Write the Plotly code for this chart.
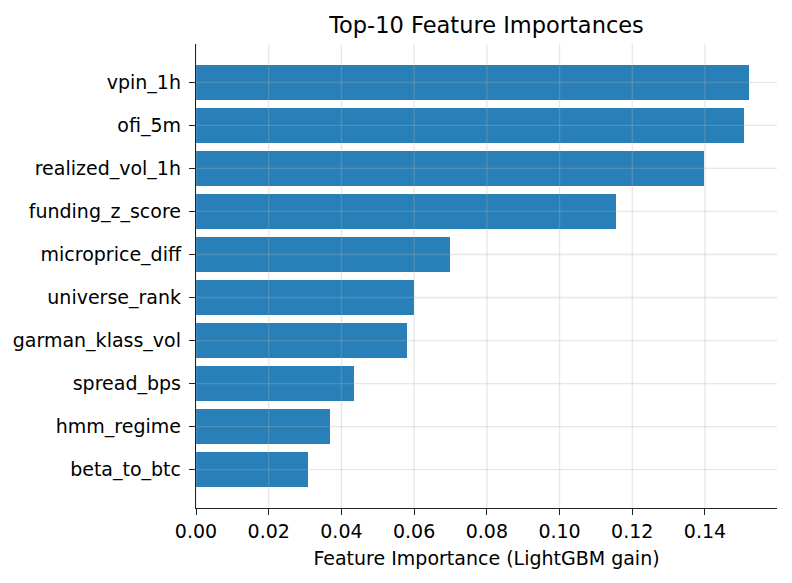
import plotly.graph_objects as go

features = ["beta_to_btc", "hmm_regime", "spread_bps", "garman_klass_vol", "universe_rank",
            "microprice_diff", "funding_z_score", "realized_vol_1h", "ofi_5m", "vpin_1h"]
importance = [0.0307, 0.0368, 0.0434, 0.0580, 0.0599, 0.0698, 0.1154, 0.1396, 0.1508, 0.1522]
xticks = [0.00, 0.02, 0.04, 0.06, 0.08, 0.10, 0.12, 0.14]
xtick_labels = ["0.00", "0.02", "0.04", "0.06", "0.08", "0.10", "0.12", "0.14"]

ypos = list(range(len(features)))
FONT = "DejaVu Sans"
grid_color = "rgba(176,176,176,0.3)"

fig = go.Figure(go.Bar(
    x=importance, y=ypos, orientation="h", width=0.8,
    marker=dict(color="#2980b9", line=dict(width=0)),
))

shapes = []
for xv in xticks:
    shapes.append(dict(type="line", xref="x", yref="paper", x0=xv, x1=xv, y0=0, y1=1,
                       line=dict(color=grid_color, width=1.3), layer="above"))
for yv in ypos:
    shapes.append(dict(type="line", xref="paper", yref="y", x0=0, x1=1, y0=yv, y1=yv,
                       line=dict(color=grid_color, width=1.3), layer="above"))

xmax = max(importance) * 1.05
fig.update_layout(
    width=792, height=583,
    margin=dict(l=196, r=15, t=44, b=75),
    paper_bgcolor="white", plot_bgcolor="white",
    font=dict(family=FONT, size=19, color="black"),
    title=dict(text="Top-10 Feature Importances", x=0.5, xref="paper", xanchor="center",
               y=1 - 25 / 583, yanchor="middle", font=dict(size=22.5, color="black")),
    showlegend=False,
    shapes=shapes,
    bargap=0,
)
fig.update_xaxes(
    range=[0, xmax], tickvals=xticks, ticktext=xtick_labels,
    showgrid=False, zeroline=False,
    showline=True, linecolor="#222222", linewidth=1.4,
    ticks="outside", ticklen=6, tickwidth=1.4, tickcolor="#222222",
    title=dict(text="Feature Importance (LightGBM gain)", standoff=10, font=dict(size=19)),
    tickfont=dict(size=19),
)
fig.update_yaxes(
    range=[-0.89, len(features) - 1 + 0.89], tickvals=ypos, ticktext=features,
    showgrid=False, zeroline=False,
    showline=True, linecolor="#222222", linewidth=1.4,
    ticks="outside", ticklen=6, tickwidth=1.4, tickcolor="#222222",
    tickfont=dict(size=19), ticklabelstandoff=4,
)

fig.write_html("out.html")
